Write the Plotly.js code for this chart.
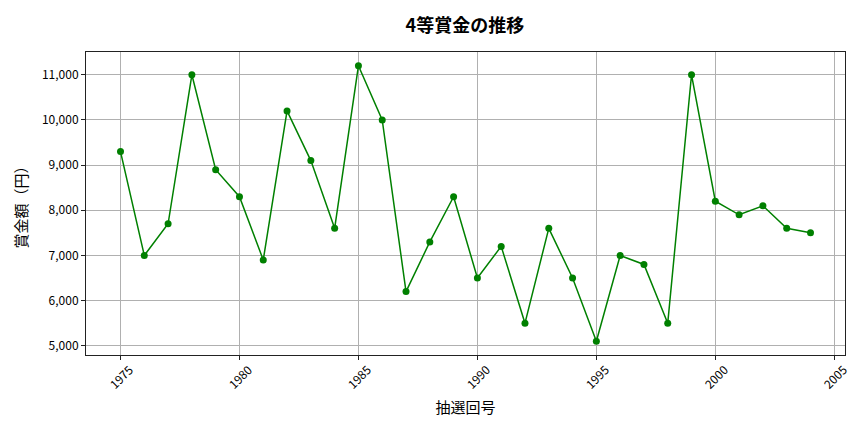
<!DOCTYPE html>
<html>
<head>
<meta charset="utf-8">
<script src="https://cdn.plot.ly/plotly-3.0.1.min.js"></script>
<style>html,body{margin:0;padding:0;background:#fff;}#chart{width:864px;height:432px;}</style>
</head>
<body>
<div id="chart"></div>
<script>
const years = [1975,1976,1977,1978,1979,1980,1981,1982,1983,1984,1985,1986,1987,1988,1989,1990,1991,1992,1993,1994,1995,1996,1997,1998,1999,2000,2001,2002,2003,2004];
const prizes = [9300,7000,7700,11000,8900,8300,6900,10200,9100,7600,11200,10000,6200,7300,8300,6500,7200,5500,7600,6500,5100,7000,6800,5500,11000,8200,7900,8100,7600,7500];
const xTickVals = [1975,1980,1985,1990,1995,2000,2005];
const xTickText = ['1975','1980','1985','1990','1995','2000','2005'];
const titleText = '4等賞金の推移';
const xTitle = '抽選回号';
const yTitle = '賞金額（円）';

const font = 'Noto Sans CJK JP, Noto Sans, sans-serif';
const trace = {
  x: years, y: prizes, type: 'scatter', mode: 'lines+markers',
  line: {color: 'green', width: 1.5},
  marker: {color: 'green', size: 7}
};
const axisCommon = {
  showline: true, mirror: true, linecolor: '#222', linewidth: 1,
  ticks: 'outside', ticklen: 4, tickcolor: '#222',
  showgrid: true, gridcolor: '#b0b0b0', gridwidth: 1, zeroline: false,
  tickfont: {family: font, size: 12, color: '#000'}
};
const tickAnnotations = xTickVals.map((v, i) => ({
  x: v, xref: 'x', y: 0, yref: 'paper', yshift: -21,
  xanchor: 'center', yanchor: 'middle', textangle: -45,
  text: xTickText[i], showarrow: false,
  font: {family: font, size: 12, color: '#000'}
}));
const layout = {
  width: 864, height: 432,
  margin: {l: 86, r: 19, t: 52, b: 77},
  paper_bgcolor: '#fff', plot_bgcolor: '#fff',
  showlegend: false,
  title: {text: titleText, x: 0.538, xanchor: 'center', y: 0.94, yanchor: 'middle', font: {family: font, size: 18, color: '#000', weight: 'bold'}},
  xaxis: Object.assign({}, axisCommon, {
    range: [1973.55, 2005.45], tickmode: 'array', tickvals: xTickVals, showticklabels: false,
    title: {text: xTitle, font: {family: font, size: 15, color: '#000'}, standoff: 43}
  }),
  yaxis: Object.assign({}, axisCommon, {
    range: [4795, 11505], tickmode: 'linear', tick0: 5000, dtick: 1000, tickformat: ',d',
    title: {text: yTitle, font: {family: font, size: 15, color: '#000'}, standoff: 10}
  }),
  annotations: tickAnnotations
};
Plotly.newPlot('chart', [trace], layout, {staticPlot: true, displayModeBar: false});
</script>
</body>
</html>
